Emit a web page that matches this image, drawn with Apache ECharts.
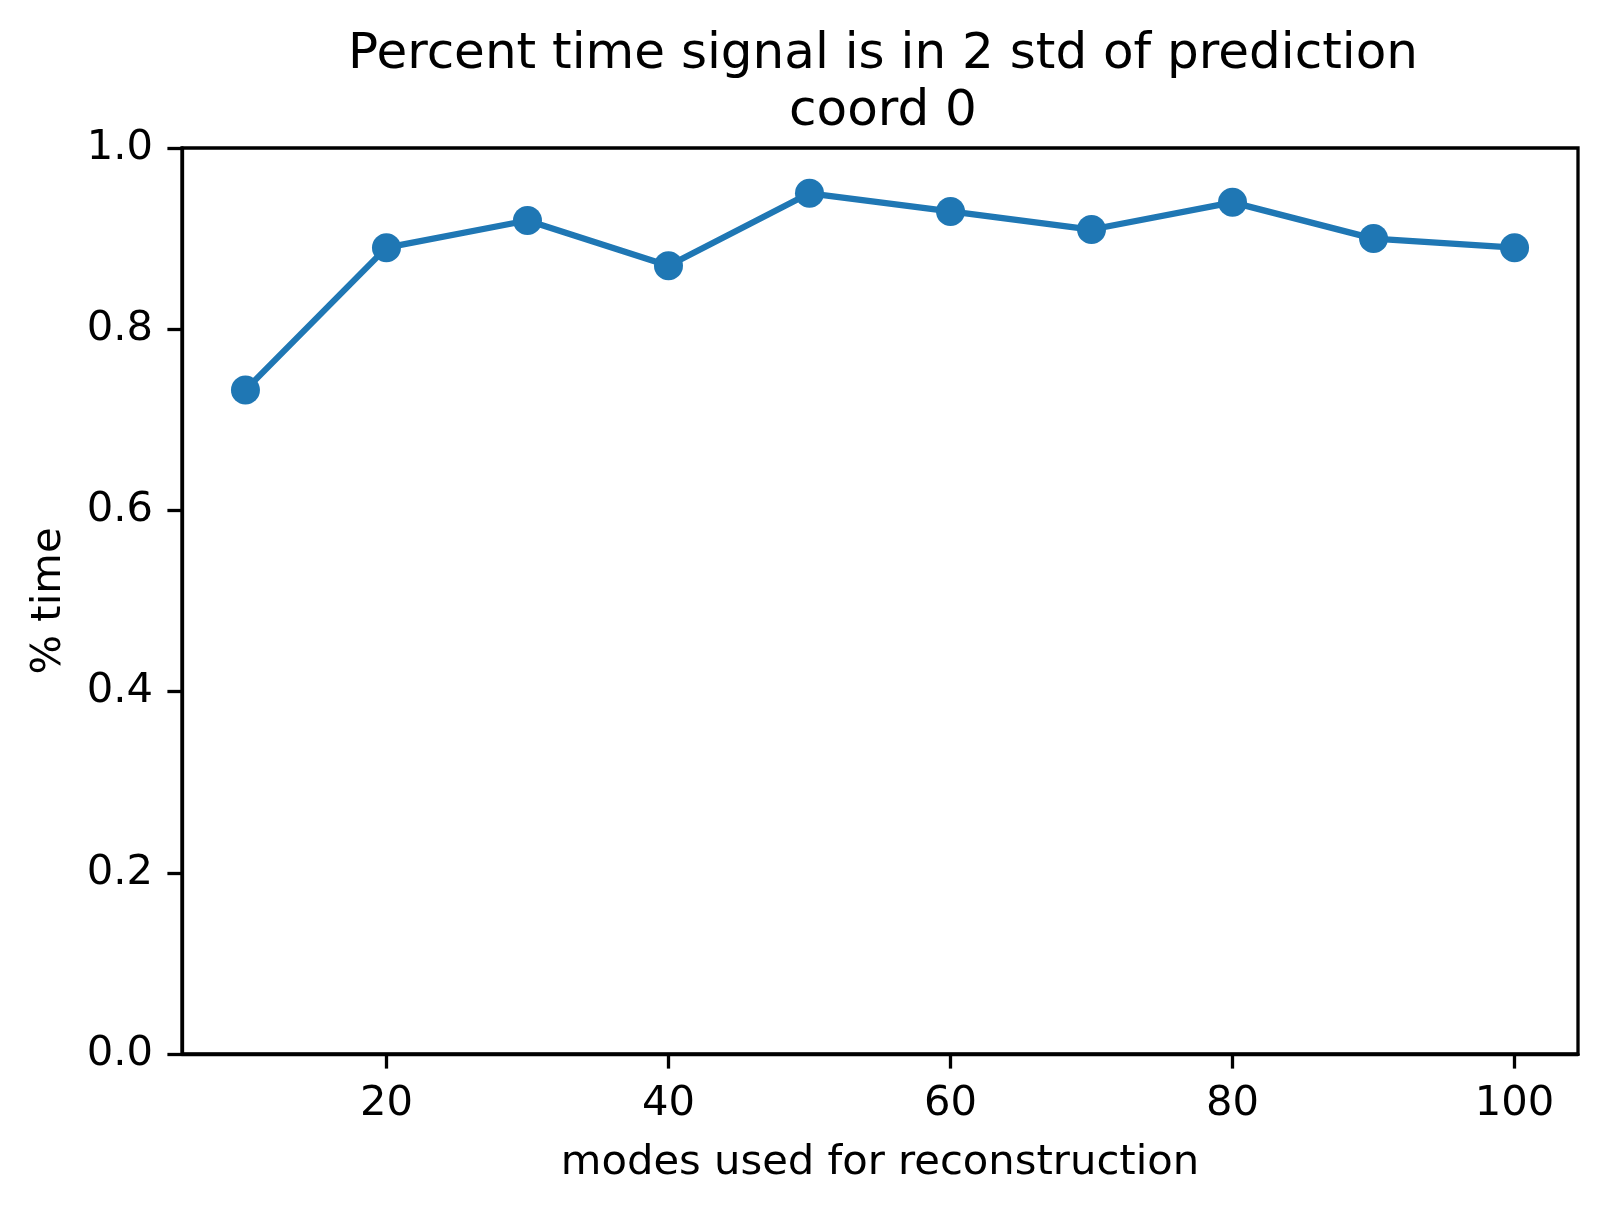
<!DOCTYPE html>
<html>
<head>
<meta charset="utf-8">
<script src="https://cdn.jsdelivr.net/npm/echarts@6/dist/echarts.min.js"></script>
<style>html,body{margin:0;padding:0;background:#fff;}#chart{width:1607px;height:1210px;}</style>
</head>
<body>
<div id="chart"></div>
<script>
var modes = [10, 20, 30, 40, 50, 60, 70, 80, 90, 100];
var percentTime = [0.733, 0.89, 0.92, 0.87, 0.95, 0.93, 0.91, 0.94, 0.90, 0.89];
var xTicks = [20, 40, 60, 80, 100];
var yTicks = [0, 0.2, 0.4, 0.6, 0.8, 1.0];

var FONT = 'DejaVu Sans';
var chart = echarts.init(document.getElementById('chart'));
var data = modes.map(function (m, i) { return [m, percentTime[i]]; });
chart.setOption({
  animation: false,
  backgroundColor: '#ffffff',
  title: {
    text: 'Percent time signal is in 2 std of prediction\ncoord 0',
    left: 878, top: 22, textAlign: 'center',
    textStyle: { fontFamily: FONT, fontSize: 50, fontWeight: 'normal', color: '#000', lineHeight: 57 }
  },
  grid: { left: 182, top: 148, right: 29, bottom: 156, show: true, borderColor: '#000', borderWidth: 3.3, backgroundColor: 'transparent' },
  xAxis: {
    type: 'value', min: 5.5, max: 104.5,
    name: 'modes used for reconstruction', nameLocation: 'middle', nameGap: 88,
    nameTextStyle: { fontFamily: FONT, fontSize: 41.7, color: '#000' },
    axisLine: { show: true, lineStyle: { color: '#000', width: 3.3 } },
    axisTick: { show: true, length: 14.6, lineStyle: { color: '#000', width: 3.3 }, customValues: xTicks },
    axisLabel: { fontFamily: FONT, fontSize: 41.7, color: '#000', margin: 29, customValues: xTicks },
    splitLine: { show: false }
  },
  yAxis: {
    type: 'value', min: 0, max: 1, interval: 0.2,
    name: '% time', nameLocation: 'middle', nameGap: 112, nameRotate: 90,
    nameTextStyle: { fontFamily: FONT, fontSize: 41.7, color: '#000' },
    axisLine: { show: true, lineStyle: { color: '#000', width: 3.3 } },
    axisTick: { show: true, length: 14.6, lineStyle: { color: '#000', width: 3.3 } },
    axisLabel: { fontFamily: FONT, fontSize: 41.7, color: '#000', margin: 29,
      formatter: function (v) { return v.toFixed(1); } },
    splitLine: { show: false }
  },
  series: [{
    type: 'line', data: data,
    symbol: 'circle', symbolSize: 29,
    lineStyle: { color: '#1f77b4', width: 6.25 },
    itemStyle: { color: '#1f77b4' }
  }]
});
</script>
</body>
</html>
